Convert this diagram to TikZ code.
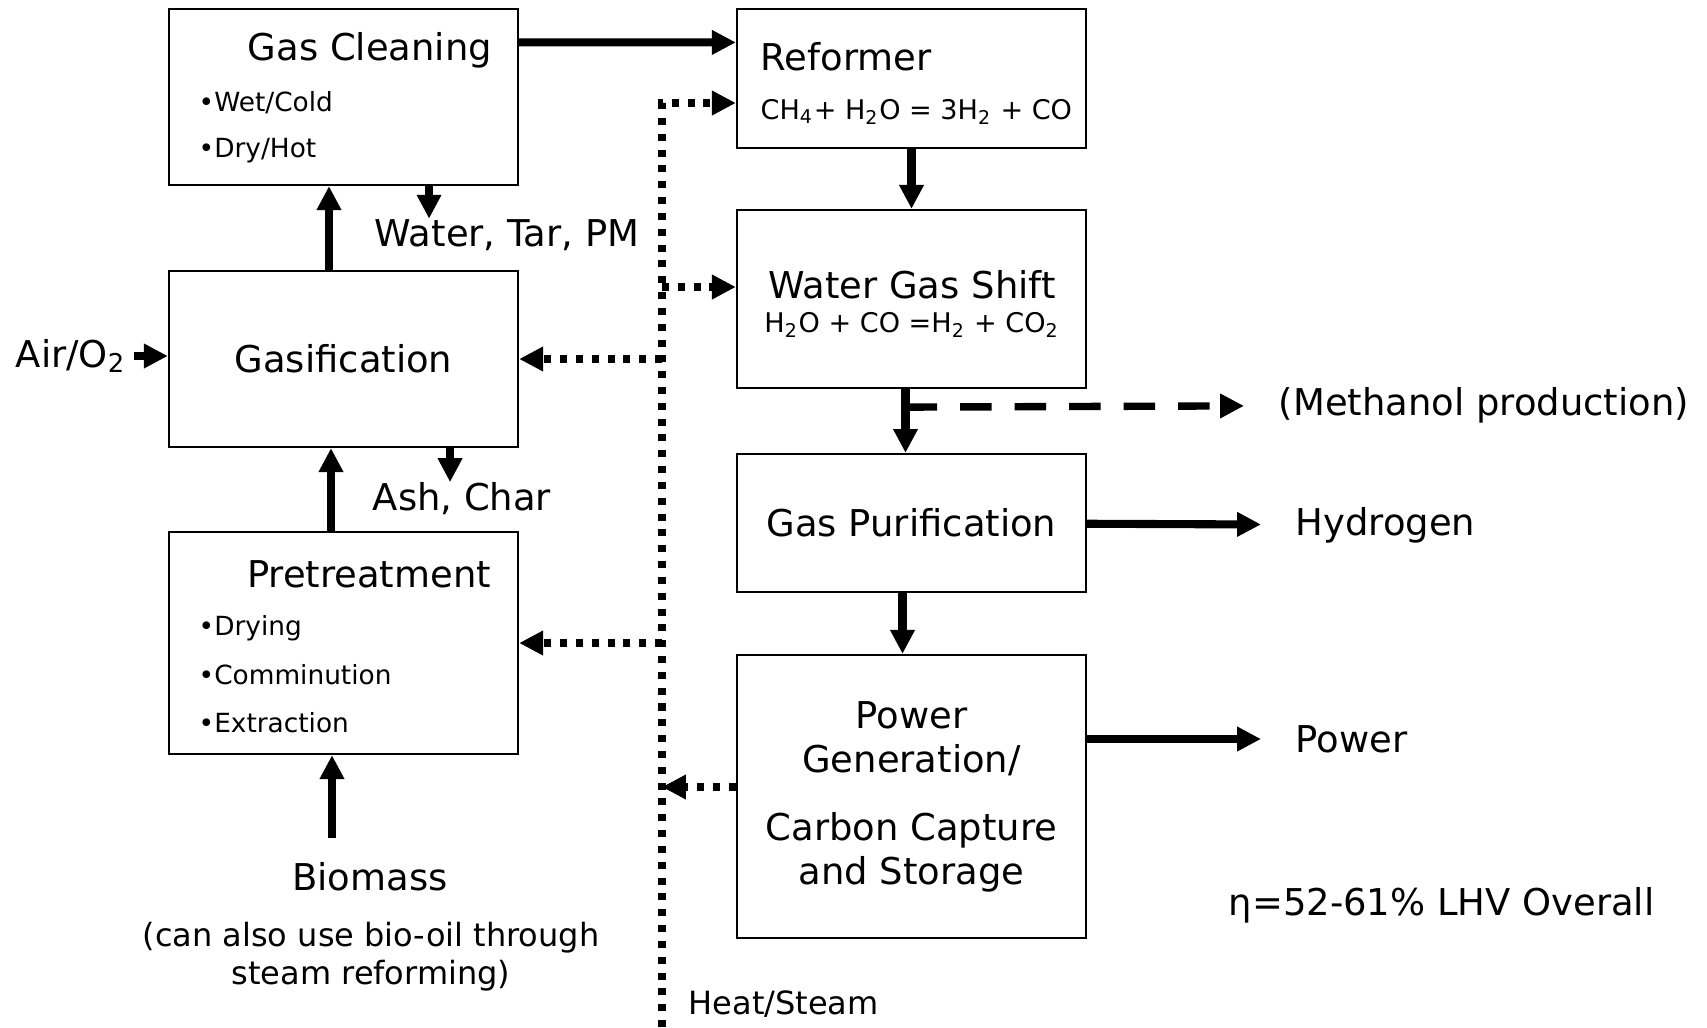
\documentclass[tikz,border=0pt]{standalone}
\usepackage{fontspec}
\setmainfont{DejaVu Sans}
\usepackage{tikz}
\usetikzlibrary{
        arrows.meta,
        positioning
    }
\tikzset{>={Triangle[length=6.8pt,width=6.6pt]}}

\begin{document}
\begin{tikzpicture}[x=0.01cm,y=-0.01cm]
			\tikzset{box/.style={draw,line width=0.6pt,minimum width=3.49cm,inner sep=0pt,align=center,font=\fontsize{10.5}{12.5}\selectfont}}
			\tikzset{bigtxt/.style={inner sep=0pt,font=\fontsize{10.5}{12.5}\selectfont}}
			\tikzset{bullettxt/.style={inner sep=0pt,anchor=west,font=\fontsize{7.5}{9}\selectfont}}
			\tikzset{eqtxt/.style={inner sep=0pt,font=\fontsize{7.7}{9}\selectfont}}
			\tikzset{notetxt/.style={inner sep=0pt,align=center,font=\fontsize{9.1}{10.8}\selectfont}}
			\tikzset{outlab/.style={bigtxt,anchor=west,inner xsep=0.34cm}}
			\tikzset{flow/.style={->,line width=2.3pt}}
			\tikzset{heat/.style={->,line width=2.1pt,dash pattern=on 2pt off 2.5pt}}
			\tikzset{dashflow/.style={->,line width=2.1pt,dash pattern=on 9pt off 6.5pt}}
			\useasboundingbox (0,0) rectangle (1707,1027);
			\node[box,minimum height=1.76cm] (clean) at (343.5,97) {};
			\node[box,minimum height=1.76cm] (gasif) at (343.5,359) {Gasification};
			\node[box,minimum height=2.22cm] (pre) at (343.5,643) {};
			\node[box,minimum height=1.39cm] (reform) at (911.5,78.5) {};
			\node[box,minimum height=1.78cm] (wgs) at (911.5,299) {};
			\node[box,minimum height=1.38cm] (purif) at (911.5,523) {Gas Purification};
			\node[box,minimum height=2.83cm] (pgen) at (911.5,796.5) {Power\\Generation/\\[6.8pt]Carbon Capture\\and Storage};
			\node[bigtxt] (cleantxt) at (370,50) {Gas Cleaning};
			\node[bullettxt] (wet) at (198,103) {\textbullet Wet/Cold};
			\node[bullettxt] (dry) at (198,151) {\textbullet Dry/Hot};
			\node[bigtxt] (pretxt) at (369,574) {Pretreatment};
			\node[bullettxt] (drying) at (198,628) {\textbullet Drying};
			\node[bullettxt] (comm) at (198,675) {\textbullet Comminution};
			\node[bullettxt] (extr) at (198,723) {\textbullet Extraction};
			\node[bigtxt,anchor=west] (reftxt) at (760,57) {Reformer};
			\node[eqtxt,anchor=west] (refeq) at (760,112) {CH\textsubscript{4}+ H\textsubscript{2}O = 3H\textsubscript{2} + CO};
			\node[bigtxt] (wgstxt) at (912,285) {Water Gas Shift};
			\node[eqtxt] (wgseq) at (912,325) {H\textsubscript{2}O + CO =H\textsubscript{2} + CO\textsubscript{2}};
			\node[bigtxt] (water) at (507,235) {Water, Tar, PM};
			\node[bigtxt] (ash) at (462,499) {Ash, Char};
			\node[bigtxt,inner xsep=2pt] (air) at (71,356) {Air/O\textsubscript{2}};
			\node[bigtxt] (bio) at (370,877) {Biomass};
			\node[notetxt] (bionote) at (371,957) {(can also use bio-oil through\\steam reforming)};
			\node[outlab] (meth) at (1244,405) {(Methanol production)};
			\node[outlab] (hyd) at (1261,525) {Hydrogen};
			\node[outlab] (pow) at (1261,739) {Power};
			\node[bigtxt,anchor=west] (eff) at (1228,905) {η=52-61\% LHV Overall};
			\node[notetxt,anchor=west] (steam) at (688,1004) {Heat/Steam};
			\coordinate (htop) at (662,103);
			\coordinate (hbot) at (662,1027);
			\coordinate (hwgs) at (662,287);
			\coordinate (hpow) at (662,787);
			\coordinate (feed) at (332,838);
			\coordinate (split) at ([xshift=-0.06cm,yshift=-0.18cm]wgs.south);
			\draw[flow] ([yshift=-0.345cm]clean.north east) -- ([yshift=-0.345cm]reform.north west);
			\draw[flow] (reform) -- (wgs);
			\draw[flow] ([xshift=-0.06cm]wgs.south) -- ([xshift=-0.06cm]purif.north);
			\draw[flow] ([xshift=-0.09cm]purif.south) -- ([xshift=-0.09cm]pgen.north);
			\draw[dashflow] (split) -- (meth);
			\draw[flow] (purif) -- (hyd);
			\draw[flow] (pow -| pgen.east) -- (pow);
			\draw[flow] ([xshift=-0.145cm]gasif.north) -- ([xshift=-0.145cm]clean.south);
			\draw[flow] ([xshift=-0.125cm]pre.north) -- ([xshift=-0.125cm]gasif.south);
			\draw[flow] (feed) -- (feed |- pre.south);
			\draw[flow] ([xshift=0.855cm]clean.south) -- ([xshift=0.855cm]clean.south |- water.north);
			\draw[flow] ([xshift=1.065cm]gasif.south) -- ([xshift=1.065cm]gasif.south |- ash.north);
			\draw[flow] (air) -- (air -| gasif.west);
			\draw[heat] (hbot) -- (htop) -- (htop -| reform.west);
			\draw[heat] (hwgs) -- (hwgs -| wgs.west);
			\draw[heat] (htop |- gasif) -- (gasif);
			\draw[heat] (htop |- pre) -- (pre);
			\draw[heat] (hpow -| pgen.west) -- (hpow);
		\end{tikzpicture}
\end{document}
